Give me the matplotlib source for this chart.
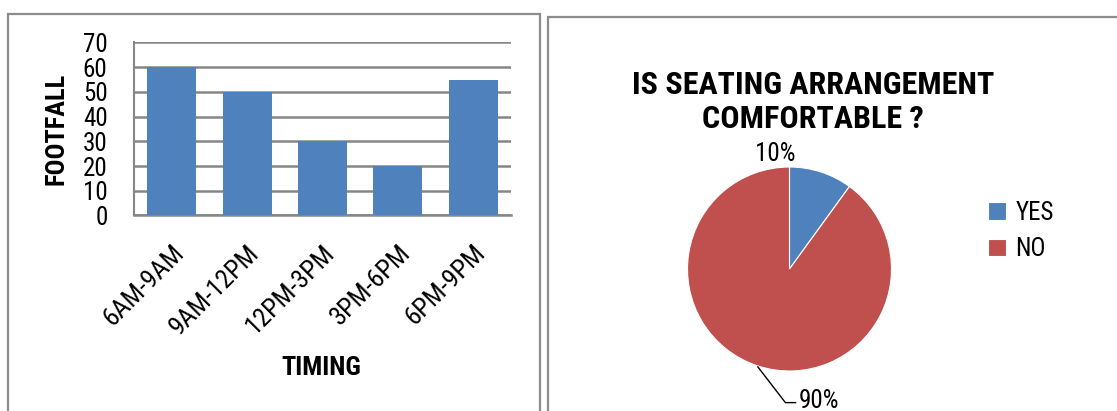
import numpy as np
import matplotlib.pyplot as plt
from matplotlib.patches import Rectangle

plt.rcParams['font.family'] = ['Liberation Sans Narrow', 'Roboto Condensed', 'Liberation Sans', 'DejaVu Sans']

# Bar chart data
timings = ["6AM-9AM", "9AM-12PM", "12PM-3PM", "3PM-6PM", "6PM-9PM"]
footfall = [60, 50, 30, 20, 55]
y_ticks = [0, 10, 20, 30, 40, 50, 60, 70]

# Pie chart data
answers = ["YES", "NO"]
shares = [10, 90]

blue = "#4F81BD"
red = "#C0504D"
grid_gray = "#868686"

fig = plt.figure(figsize=(11.17, 4.11), dpi=100)

# panel borders
fig.patches.append(Rectangle((8 / 1117, -0.05), 532 / 1117, 1 - 13.5 / 411 + 0.05,
                             transform=fig.transFigure, fill=False,
                             edgecolor="#8c8c8c", linewidth=1.6))
fig.patches.append(Rectangle((548 / 1117, -0.05), 0.6, 1 - 17 / 411 + 0.05,
                             transform=fig.transFigure, fill=False,
                             edgecolor="#8c8c8c", linewidth=1.6))

# ---- bar chart ----
ax = fig.add_axes([134 / 1117, 1 - 215.5 / 411, 377 / 1117, 173 / 411])
x = np.arange(len(timings))
ax.bar(x, footfall, width=0.65, color=blue, zorder=3)
ax.set_xlim(-0.5, len(timings) - 0.5)
ax.set_ylim(0, 70)
ax.set_yticks(y_ticks)
ax.tick_params(axis="y", length=0, labelsize=18, pad=19)
ax.tick_params(axis="x", length=0, labelsize=19, pad=18)
ax.set_xticks(x)
ax.set_xticklabels(timings, rotation=45, ha="right", rotation_mode="anchor")
ax.yaxis.grid(True, color=grid_gray, linewidth=1.8, zorder=0)
for side in ["top", "right"]:
    ax.spines[side].set_visible(False)
ax.spines["left"].set_color(grid_gray)
ax.spines["left"].set_linewidth(1.5)
ax.spines["bottom"].set_color(grid_gray)
ax.spines["bottom"].set_linewidth(1.8)
ax.set_ylabel("FOOTFALL", fontsize=19, fontweight="bold")
ax.set_xlabel("TIMING", fontsize=19, fontweight="bold", va="top")
ax.yaxis.set_label_coords(-0.175, 0.5)
ax.xaxis.set_label_coords(0.496, -0.81)

# ---- pie chart ----
pax = fig.add_axes([687.5 / 1117, 1 - 371 / 411, 204 / 1117, 204 / 411])
wedges, _ = pax.pie(shares, colors=[blue, red], startangle=90, counterclock=False,
                    wedgeprops=dict(linewidth=0.8, edgecolor="white"))
pax.set_xlim(-1, 1)
pax.set_ylim(-1, 1)

pax.text(-0.14, 1.13, f"{shares[0]}%", fontsize=18, ha="center", va="center")
pax.plot([-0.31, -0.04, 0.06], [-0.96, -1.31, -1.31], color="black", linewidth=1,
         clip_on=False)
pax.text(0.09, -1.29, f"{shares[1]}%", fontsize=18, ha="left", va="center")

fig.text(813 / 1117, 1 - 102 / 411, "IS SEATING ARRANGEMENT\nCOMFORTABLE ?",
         fontsize=23, fontweight="bold", ha="center", va="center", linespacing=1.2)

fig.legend(wedges, answers, loc="center left", bbox_to_anchor=(988 / 1117, 1 - 231 / 411),
           frameon=False, fontsize=18, handlelength=0.7, handleheight=0.7,
           handletextpad=0.4, labelspacing=0.5, borderpad=0, borderaxespad=0)

fig.savefig("out.png", dpi=100)
